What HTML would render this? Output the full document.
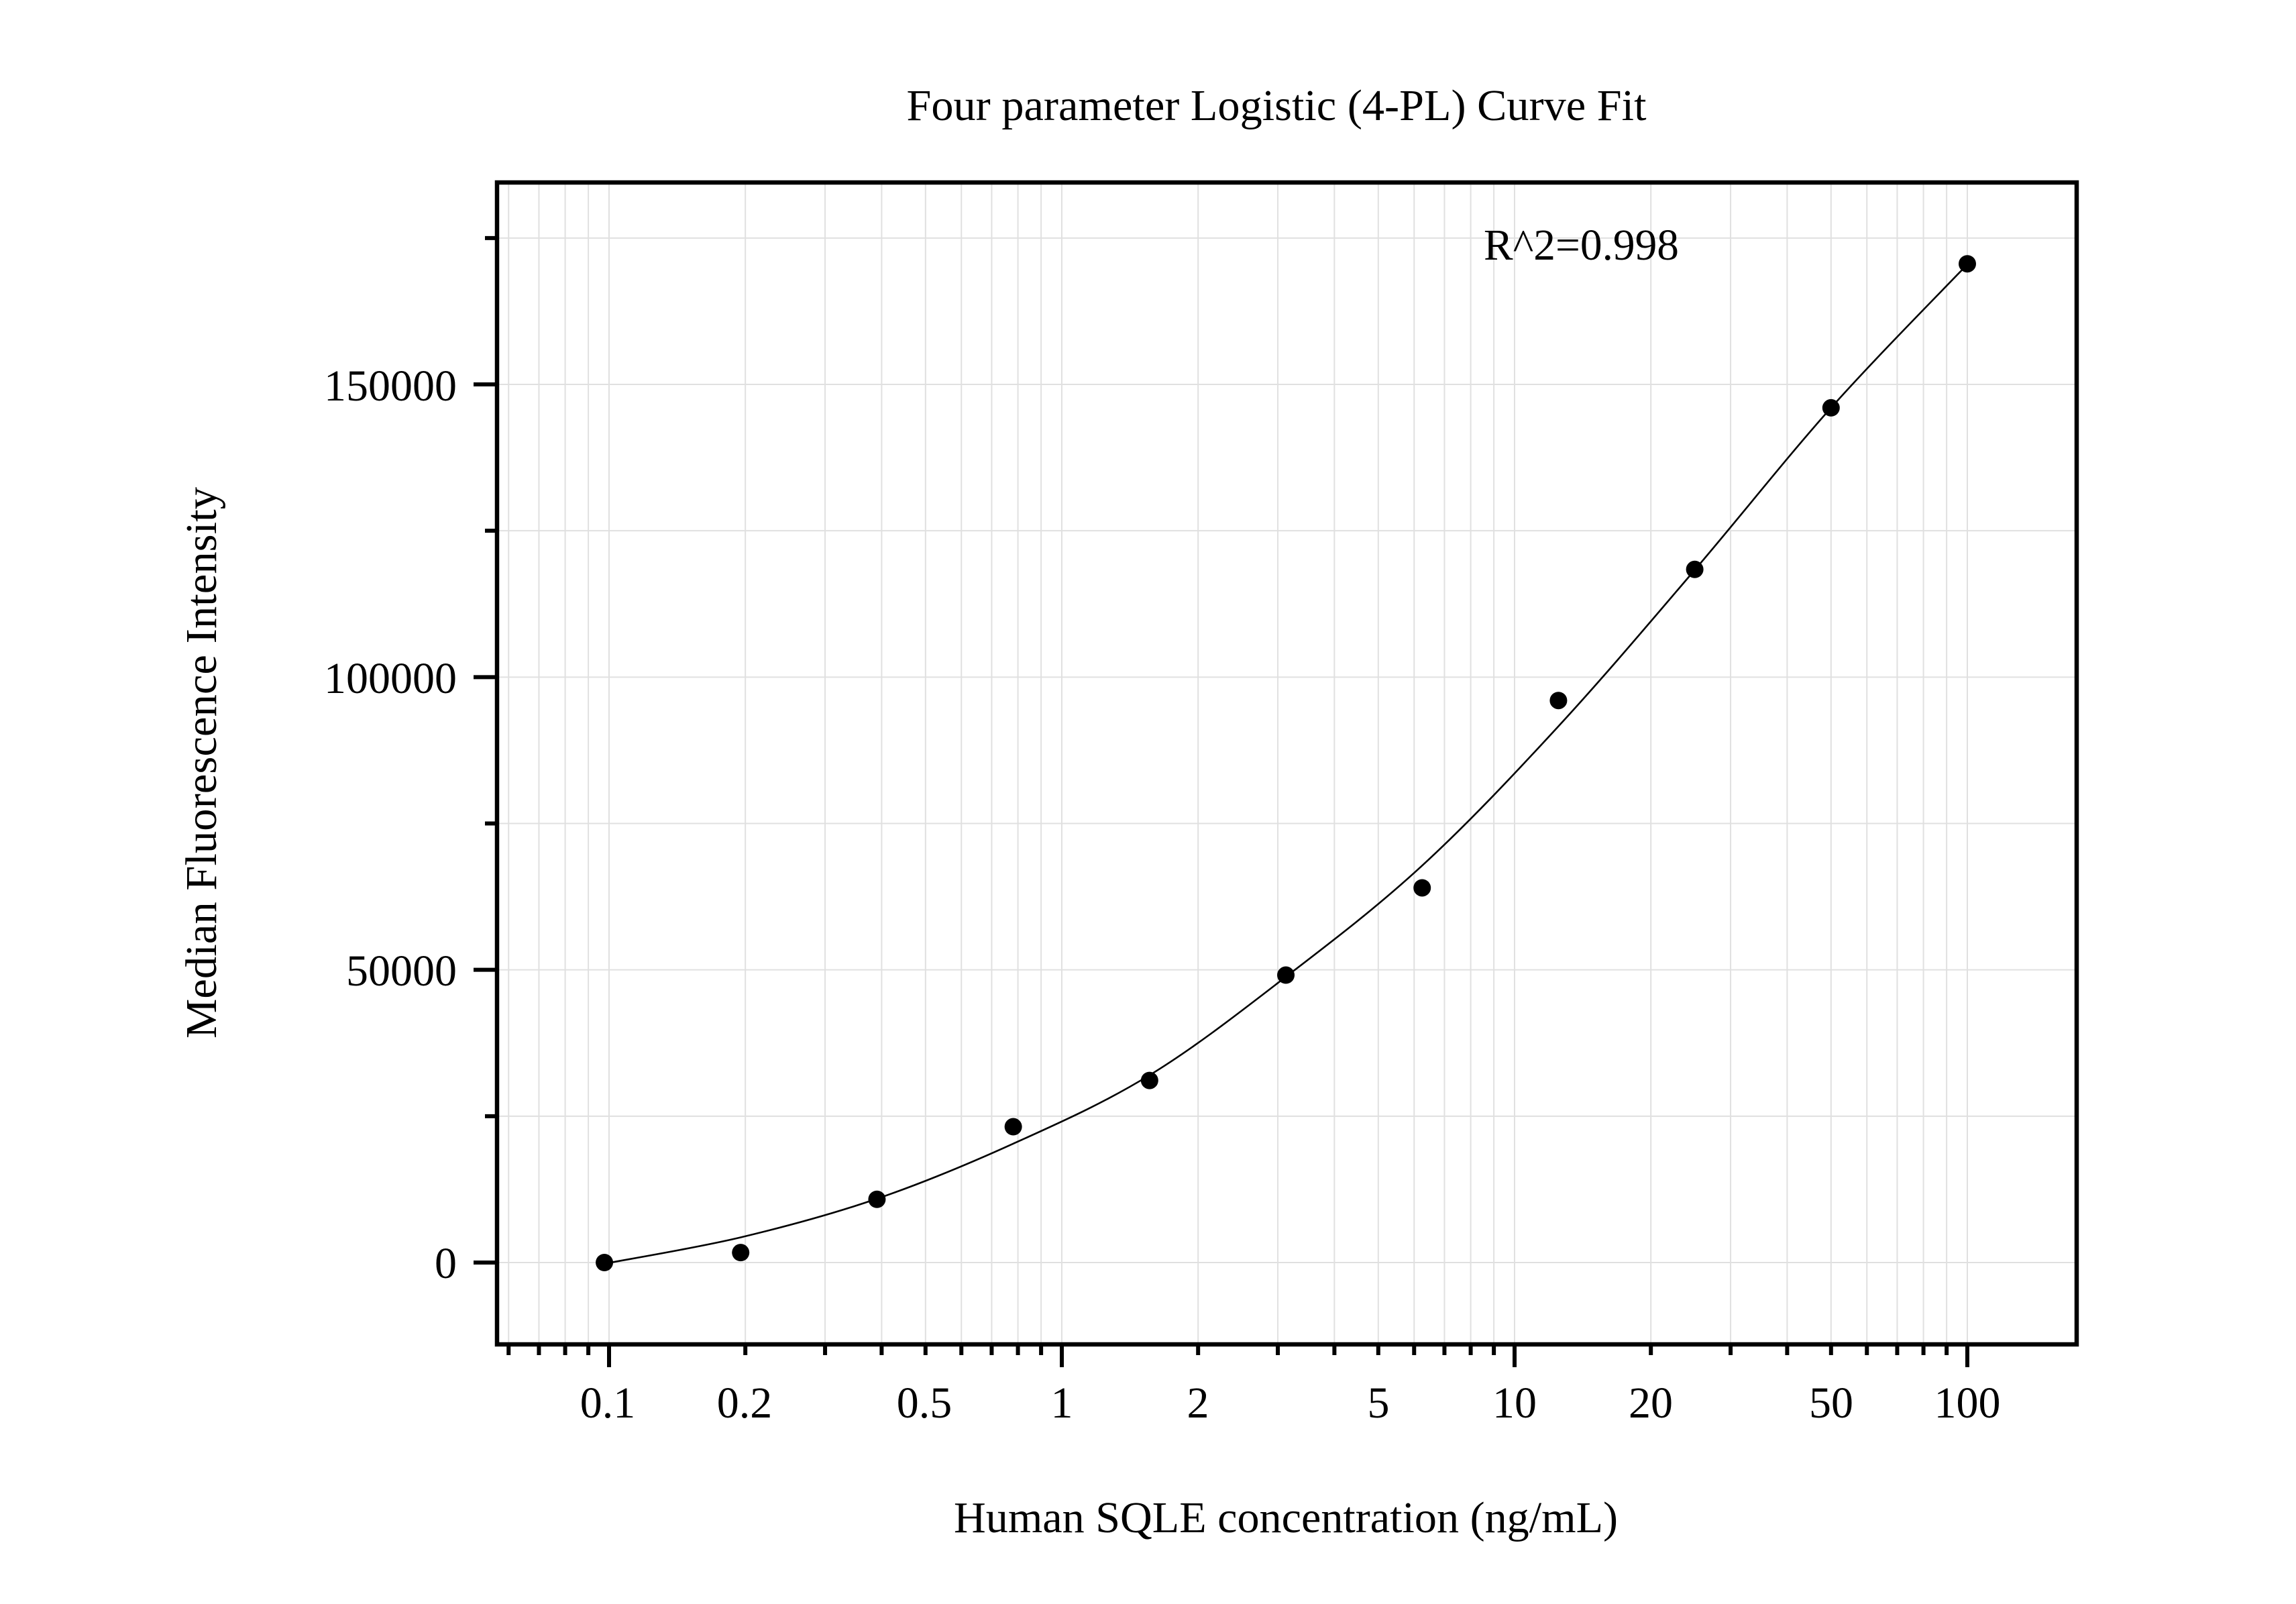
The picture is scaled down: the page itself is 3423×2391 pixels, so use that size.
<!DOCTYPE html>
<html><head><meta charset="utf-8"><style>
html,body{margin:0;padding:0;background:#fff;}
svg{display:block;}
text{font-family:"Liberation Serif","Times New Roman",serif;fill:#000;}
</style></head><body>
<svg id="s" width="3423" height="2391" viewBox="0 0 3423 2391" xmlns="http://www.w3.org/2000/svg">
<rect width="3423" height="2391" fill="#fff"/>
<g id="grid"></g>
<path id="curve" fill="none" stroke="#000" stroke-width="2.6"/>
<g id="pts"></g>
<g id="axes"></g>
<text x="1903" y="179" font-size="66" text-anchor="middle" textLength="1103" lengthAdjust="spacingAndGlyphs">Four parameter Logistic (4-PL) Curve Fit</text>
<text x="1917" y="2284" font-size="66" text-anchor="middle" textLength="990" lengthAdjust="spacingAndGlyphs">Human SQLE concentration (ng/mL)</text>
<text x="0" y="0" font-size="66" text-anchor="middle" textLength="822" lengthAdjust="spacingAndGlyphs" transform="translate(322,1137) rotate(-90)">Median Fluorescence Intensity</text>
<text x="2212" y="387" font-size="66" textLength="291" lengthAdjust="spacingAndGlyphs">R^2=0.998</text>
<g font-size="66" text-anchor="middle">
<text x="906" y="2113">0.1</text>
<text x="1110" y="2113">0.2</text>
<text x="1378" y="2113">0.5</text>
<text x="1583" y="2113">1</text>
<text x="1786" y="2113">2</text>
<text x="2055" y="2113">5</text>
<text x="2258" y="2113">10</text>
<text x="2461" y="2113">20</text>
<text x="2730" y="2113">50</text>
<text x="2933" y="2113">100</text>
</g>
<g font-size="66" text-anchor="end">
<text x="681" y="1905">0</text>
<text x="681" y="1469">50000</text>
<text x="681" y="1033">100000</text>
<text x="681" y="597">150000</text>
</g>
</svg>
<script>
(function(){
var NS="http://www.w3.org/2000/svg";
var L=741,R=3096,T=272,B=2004;
function X(c){return 908+675*Math.log10(c/0.1);}
function Y(v){return 1882-v*0.0087267;}
function el(p,tag,a){var e=document.createElementNS(NS,tag);for(var k in a)e.setAttribute(k,a[k]);p.appendChild(e);return e;}
var g=document.getElementById('grid'),ax=document.getElementById('axes');
var xs=[];
[0.01,0.1,1,10,100].forEach(function(d){for(var m=1;m<10;m++){var c=d*m;var x=X(c);if(x>L+3&&x<R-3)xs.push([x,m==1]);}});
xs.forEach(function(p){el(g,'line',{x1:p[0],x2:p[0],y1:T,y2:B,stroke:'#e0e0e0','stroke-width':2});});
for(var v=0;v<=175000;v+=25000){var y=Y(v);el(g,'line',{x1:L,x2:R,y1:y,y2:y,stroke:'#e0e0e0','stroke-width':2});
 el(ax,'line',{x1:(v%50000==0)?706:723,x2:L,y1:y,y2:y,stroke:'#000','stroke-width':6});}
xs.forEach(function(p){el(ax,'line',{x1:p[0],x2:p[0],y1:B,y2:p[1]?2038:2020,stroke:'#000','stroke-width':6});});
el(ax,'rect',{x:L,y:T,width:R-L,height:B-T,fill:'none',stroke:'#000','stroke-width':6.5});
var fit=[[0.09766,-200],[0.1953,4300],[0.3906,10900],[0.78125,20300],[1.5625,32000],[3.125,48800],[6.25,67800],[12.5,91600],[25,118300],[50,146000],[100,170500]];
var P=fit.map(function(f){return [X(f[0]),Y(f[1])];});
var d='M'+P[0][0].toFixed(1)+' '+P[0][1].toFixed(1);
for(var i=0;i<P.length-1;i++){var p0=P[Math.max(i-1,0)],p1=P[i],p2=P[i+1],p3=P[Math.min(i+2,P.length-1)];
 var c1x=p1[0]+(p2[0]-p0[0])/6,c1y=p1[1]+(p2[1]-p0[1])/6,c2x=p2[0]-(p3[0]-p1[0])/6,c2y=p2[1]-(p3[1]-p1[1])/6;
 d+=' C'+c1x.toFixed(1)+' '+c1y.toFixed(1)+' '+c2x.toFixed(1)+' '+c2y.toFixed(1)+' '+p2[0].toFixed(1)+' '+p2[1].toFixed(1);}
document.getElementById('curve').setAttribute('d',d);
var data=[[0.09766,0],[0.1953,1700],[0.3906,10800],[0.78125,23200],[1.5625,31100],[3.125,49100],[6.25,64000],[12.5,96000],[25,118400],[50,146000],[100,170600]];
var pg=document.getElementById('pts');
data.forEach(function(p){el(pg,'circle',{cx:X(p[0]),cy:Y(p[1]),r:13,fill:'#000'});});
})();
</script>
</body></html>
